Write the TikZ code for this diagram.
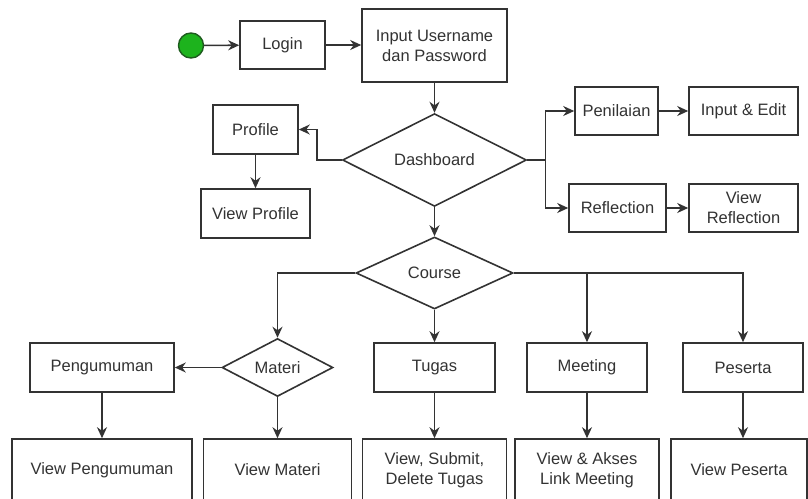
\documentclass[tikz,border=0pt]{standalone}
\usepackage{fontspec}
\setmainfont{Liberation Sans}
\usetikzlibrary{shapes.geometric,arrows.meta}
\definecolor{ln}{HTML}{333333}
\definecolor{startfill}{HTML}{1DB31D}
\definecolor{startline}{HTML}{1E5C1E}
\begin{document}
\begin{tikzpicture}[x=1pt,y=-1pt,
  every node/.style={font=\fontsize{16.5}{20}\selectfont, text=ln, align=center},
  box/.style={draw=ln, line width=1.6pt, rectangle, inner sep=0pt},
  dia/.style={draw=ln, line width=1.6pt, diamond, inner sep=0pt},
  conn/.style={draw=ln, line width=1.6pt, -{Stealth[length=11pt,width=10pt]}},
  plain/.style={draw=ln, line width=1.6pt}]
\useasboundingbox (0,0) rectangle (808,498);
\clip (0,0) rectangle (808,498);
\fill[white] (0,0) rectangle (808,498);

% top
\node[circle, draw=startline, fill=startfill, line width=1.4pt, minimum size=25pt, inner sep=0pt] (start) at (191,45.5) {};
\node[box, minimum width=85pt, minimum height=48pt] (login) at (282.5,45) {Login};
\node[box, minimum width=145pt, minimum height=73pt] (input) at (434.5,45.5) {Input Username\\dan Password};
\node[dia, minimum width=184pt, minimum height=85pt] (dash) at (434.5,160) {Dashboard};

\node[box, minimum width=85pt, minimum height=49pt] (profile) at (255.5,129.5) {Profile};
\node[box, minimum width=109pt, minimum height=49pt] (vprofile) at (255.5,213.5) {View Profile};

\node[box, minimum width=83pt, minimum height=48pt] (penilaian) at (616.5,111) {Penilaian};
\node[box, minimum width=109pt, minimum height=48pt] (inputedit) at (743.5,111) {Input \& Edit};
\node[box, minimum width=97pt, minimum height=48pt] (reflection) at (617.5,208) {Reflection};
\node[box, minimum width=109pt, minimum height=48pt] (vrefl) at (743.5,208) {View\\Reflection};

% course level
\node[dia, minimum width=157pt, minimum height=72pt] (course) at (434.5,273) {Course};
\node[dia, minimum width=111pt, minimum height=57pt] (materi) at (277.5,367.5) {Materi};
\node[box, minimum width=144pt, minimum height=49pt] (peng) at (102,367.5) {Pengumuman};
\node[box, minimum width=121pt, minimum height=49pt] (tugas) at (434.5,367.5) {Tugas};
\node[box, minimum width=120pt, minimum height=49pt] (meeting) at (587,367.5) {Meeting};
\node[box, minimum width=120pt, minimum height=49pt] (peserta) at (743,367.5) {Peserta};

% bottom
\node[box, minimum width=180pt, minimum height=62pt] (vpeng) at (102,470) {View Pengumuman};
\node[box, minimum width=148pt, minimum height=62pt] (vmateri) at (277.5,470) {View Materi};
\node[box, minimum width=144pt, minimum height=62pt] (vtugas) at (434.5,470) {View, Submit,\\Delete Tugas};
\node[box, minimum width=144pt, minimum height=62pt] (vmeeting) at (587,470) {View \& Akses\\Link Meeting};
\node[box, minimum width=136pt, minimum height=62pt] (vpeserta) at (739,470) {View Peserta};

% connectors
\draw[conn] (start) -- (login);
\draw[conn] (login) -- (login -| input.west);
\draw[conn] (input) -- (dash);
\draw[conn] (dash.west) -- ++(-25,0) |- (profile.east);
\draw[conn] (profile) -- (vprofile);
\draw[plain] (dash.east) -- ++(18,0) coordinate (rj);
\draw[conn] (rj) |- (penilaian.west);
\draw[conn] (rj) |- (reflection.west);
\draw[conn] (penilaian) -- (inputedit);
\draw[conn] (reflection) -- (vrefl);
\draw[conn] (dash.south) -- (course.north);

\draw[conn] (course.west) -| (materi.north);
\draw[conn] (course.south) -- (tugas.north);
\draw[conn] (course.east) -| (meeting.north);
\draw[conn] (course.east) -| (peserta.north);
\draw[conn] (materi.west) -- (peng.east);

\draw[conn] (peng.south) -- (peng.south |- vpeng.north);
\draw[conn] (materi.south) -- (materi.south |- vmateri.north);
\draw[conn] (tugas.south) -- (tugas.south |- vtugas.north);
\draw[conn] (meeting.south) -- (meeting.south |- vmeeting.north);
\draw[conn] (peserta.south) -- (peserta.south |- vpeserta.north);
\end{tikzpicture}
\end{document}
